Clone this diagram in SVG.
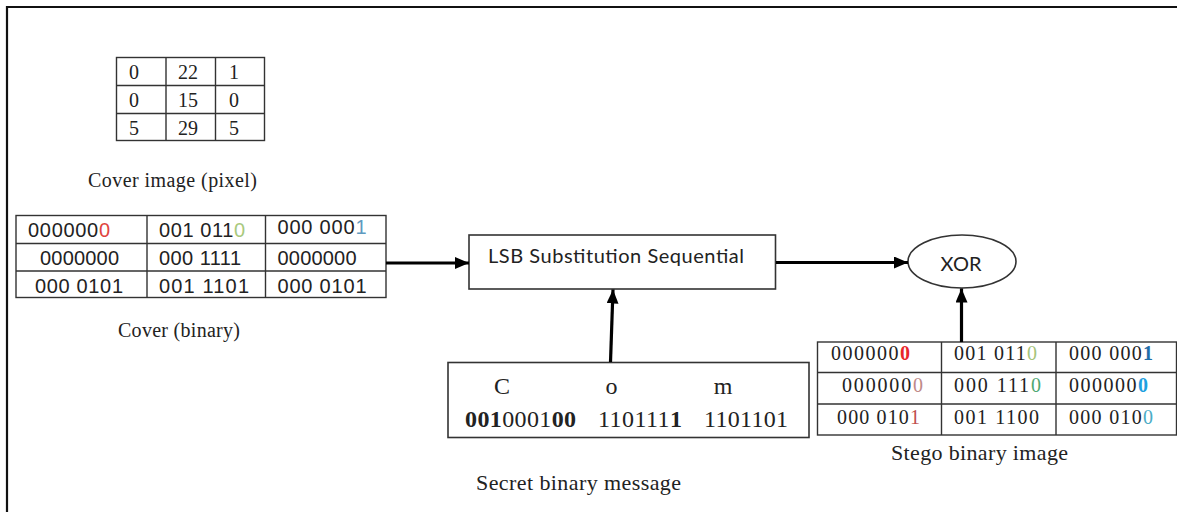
<svg xmlns="http://www.w3.org/2000/svg" width="1177" height="512" viewBox="0 0 1177 512">
  <style>
    .frame { fill: none; stroke: #111; stroke-width: 2.2; }
    .grid { fill: none; stroke: #333; stroke-width: 1.4; }
    .box { fill: #fff; stroke: #333; stroke-width: 1.6; }
    .serif { font-family: "Liberation Serif", "Times New Roman", serif; fill: #222; }
    .sans { font-family: "Liberation Sans", Arial, sans-serif; fill: #222; }
    .hum { font-family: Lato, "Open Sans", sans-serif; fill: #222; }
    .conn { stroke: #000; stroke-width: 3.2; fill: none; marker-end: url(#head); }
    .b { font-weight: bold; }
  </style>
  <defs>
    <marker id="head" markerUnits="userSpaceOnUse" markerWidth="16" markerHeight="14" refX="14" refY="6" orient="auto">
      <path d="M0,0 L14,6 L0,12 Z" fill="#000"/>
    </marker>
  </defs>

  <rect width="1177" height="512" fill="#fff"/>
  <!-- outer frame: left and top edges only -->
  <path class="frame" d="M7,512 V7 H1177"/>

  <!-- cover image pixel values -->
  <g id="cover-pixel">
    <rect class="grid" x="116.5" y="57.5" width="148" height="83"/>
    <path class="grid" d="M166,57.5 V140.5 M215.5,57.5 V140.5 M116.5,85.5 H264.5 M116.5,113.5 H264.5"/>
    <g class="serif" font-size="20">
      <text x="129" y="79">0</text><text x="178" y="79">22</text><text x="229" y="79">1</text>
      <text x="129" y="107">0</text><text x="178" y="107">15</text><text x="229" y="107">0</text>
      <text x="129" y="135">5</text><text x="178" y="135">29</text><text x="229" y="135">5</text>
    </g>
    <text class="serif" x="88" y="187" font-size="20" textLength="169">Cover image (pixel)</text>
  </g>

  <!-- cover binary values -->
  <g id="cover-binary">
    <rect class="grid" x="16" y="215.5" width="370" height="82"/>
    <path class="grid" d="M147,215.5 V297.5 M265.5,215.5 V297.5 M16,243.5 H386 M16,271 H386"/>
    <g class="sans" font-size="20">
      <text x="28" y="237" textLength="82">000000<tspan fill="#e0443e">0</tspan></text>
      <text x="159" y="237" textLength="86">001 011<tspan fill="#a9c97e">0</tspan></text>
      <text x="277.5" y="234" textLength="89">000 000<tspan fill="#5f9ac0">1</tspan></text>
      <text x="40" y="265" textLength="79">0000000</text>
      <text x="159" y="265" textLength="82">000 1111</text>
      <text x="277.5" y="265" textLength="79">0000000</text>
      <text x="35" y="292.5" textLength="88">000 0101</text>
      <text x="159" y="292.5" textLength="90">001 1101</text>
      <text x="277.5" y="292.5" textLength="89">000 0101</text>
    </g>
    <text class="serif" x="118" y="337" font-size="20" textLength="122">Cover (binary)</text>
  </g>

  <!-- embedding step -->
  <g id="lsb">
    <rect class="box" x="469" y="235" width="306.5" height="54"/>
    <text class="hum" x="488" y="263" font-size="20" textLength="256">LSB Substitution Sequential</text>
  </g>

  <!-- secret message -->
  <g id="secret">
    <rect class="box" x="448" y="362.5" width="361" height="75"/>
    <g class="serif" font-size="24" text-anchor="middle">
      <text x="502" y="394">C</text>
      <text x="611.5" y="394">o</text>
      <text x="723" y="394">m</text>
    </g>
    <g class="serif" font-size="24">
      <text x="465" y="427" textLength="111"><tspan class="b">001</tspan>0001<tspan class="b">00</tspan></text>
      <text x="598" y="427" textLength="84">110111<tspan class="b">1</tspan></text>
      <text x="704" y="427" textLength="84">1101101</text>
    </g>
    <text class="serif" x="476" y="490" font-size="22" textLength="205">Secret binary message</text>
  </g>

  <!-- xor node -->
  <g id="xor">
    <ellipse class="box" cx="962" cy="261.5" rx="54" ry="26.5"/>
    <text class="hum" x="961" y="271" font-size="20" text-anchor="middle">XOR</text>
  </g>

  <!-- stego binary values -->
  <g id="stego">
    <rect class="grid" x="817.5" y="342" width="359" height="93"/>
    <path class="grid" d="M941.5,342 V435 M1056,342 V435 M817.5,372.5 H1176.5 M817.5,404 H1176.5"/>
    <g class="serif" font-size="20">
      <text x="831" y="360" textLength="79">000000<tspan class="b" fill="#e8262a">0</tspan></text>
      <text x="954" y="360" textLength="83">001 011<tspan fill="#a6c47a">0</tspan></text>
      <text x="1069" y="360" textLength="84">000 000<tspan class="b" fill="#1f6ea8">1</tspan></text>
      <text x="842" y="392" textLength="81">000000<tspan fill="#c08a88">0</tspan></text>
      <text x="954" y="392" textLength="87">000 111<tspan fill="#4ea772">0</tspan></text>
      <text x="1069" y="392" textLength="79">000000<tspan class="b" fill="#1ea0e0">0</tspan></text>
      <text x="837" y="423.5" textLength="83">000 010<tspan fill="#c0504d">1</tspan></text>
      <text x="954" y="423.5" textLength="85">001 1100</text>
      <text x="1069" y="423.5" textLength="84">000 010<tspan fill="#4bacc6">0</tspan></text>
    </g>
    <text class="serif" x="891" y="460" font-size="22" textLength="177">Stego binary image</text>
  </g>

  <!-- connectors -->
  <g id="connectors">
    <line class="conn" x1="386" y1="263" x2="469" y2="263"/>
    <line class="conn" x1="776" y1="262.5" x2="908" y2="262.5"/>
    <line class="conn" x1="610.5" y1="362" x2="613" y2="289.5"/>
    <line class="conn" x1="961.5" y1="342" x2="961.5" y2="288.5"/>
  </g>
</svg>
